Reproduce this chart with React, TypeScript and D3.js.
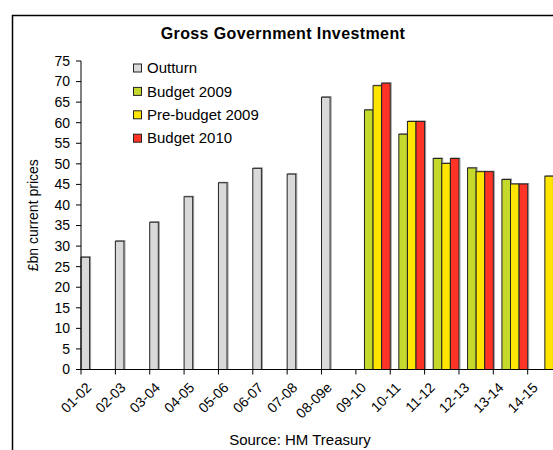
import React from "react";
import * as d3 from "d3";

const categories = ["01-02","02-03","03-04","04-05","05-06","06-07","07-08","08-09e","09-10","10-11","11-12","12-13","13-14","14-15"];
const seriesNames = ["Outturn","Budget 2009","Pre-budget 2009","Budget 2010"];
const seriesColors = ["#d9d9d9","#c5d92d","#ffe500","#ff3326"];
const outturn = [27.3,31.2,35.8,42.0,45.4,48.9,47.5,66.2,null,null,null,null,null,null];
const budget2009 = [null,null,null,null,null,null,null,null,63.1,57.2,51.3,49.0,46.2,null];
const preBudget2009 = [null,null,null,null,null,null,null,null,69.0,60.3,50.1,48.1,45.1,47.0];
const budget2010 = [null,null,null,null,null,null,null,null,69.6,60.3,51.3,48.1,45.1,null];
const yTicks = [0,5,10,15,20,25,30,35,40,45,50,55,60,65,70,75];

const W = 553, H = 450;
const left = 81, bandW = 34.36, top = 61, bottom = 369.5;

export default function App() {
  const series = [outturn, budget2009, preBudget2009, budget2010];
  const x = d3.scaleBand().domain(categories).range([left, left + bandW * categories.length]).padding(0);
  const inner = d3.scaleBand().domain(seriesNames).range([0, x.bandwidth()]).padding(0);
  const y = d3.scaleLinear().domain([0, 75]).range([bottom, top]);
  const font = "'Liberation Sans', Arial, sans-serif";
  return (
    <svg width={W} height={H} style={{ position: "absolute", left: 0, top: 0 }} fontFamily={font}>
      <rect x={0} y={0} width={W} height={H} fill="#fff" />
      <rect x={12.5} y={15.5} width={W + 20} height={H + 20} fill="none" stroke="#000" strokeWidth={1.5} />
      <text x={283} y={39} textAnchor="middle" fontSize={16} fontWeight="bold" letterSpacing={0.4}>Gross Government Investment</text>
      {/* bars */}
      {series.map((vals, si) =>
        categories.map((c, ci) => {
          const v = vals[ci];
          if (v == null) return null;
          const bx = (x(c) as number) + (inner(seriesNames[si]) as number);
          return (
            <g key={`${si}-${ci}`}>
              <rect x={bx + 1} y={y(v) - 0.5} width={inner.bandwidth()} height={y(0) - y(v) + 0.5}
                fill="none" stroke="#999" strokeWidth={1} />
              <rect x={bx} y={y(v)} width={inner.bandwidth()} height={y(0) - y(v)}
                fill={seriesColors[si]} stroke="#222" strokeWidth={1} />
            </g>
          );
        })
      )}
      {/* y axis */}
      <line x1={left} x2={left} y1={top} y2={bottom} stroke="#000" strokeWidth={1} />
      {yTicks.map((t) => (
        <g key={t}>
          <line x1={left - 5} x2={left} y1={y(t)} y2={y(t)} stroke="#000" />
          <text x={left - 11} y={y(t)} dy="0.35em" textAnchor="end" fontSize={14}>{t}</text>
        </g>
      ))}
      {/* x axis */}
      <line x1={left} x2={W} y1={bottom} y2={bottom} stroke="#000" strokeWidth={1} />
      {categories.map((c) => (
        <g key={c}>
          <line x1={x(c)} x2={x(c)} y1={bottom} y2={bottom + 5} stroke="#000" />
          <text transform={`translate(${(x(c) as number) + bandW / 2 - 6},${bottom + 19}) rotate(-45)`}
            textAnchor="end" fontSize={14}>{c}</text>
        </g>
      ))}
      <text transform={`translate(38,${(top + bottom) / 2}) rotate(-90)`} textAnchor="middle" fontSize={14}>£bn current prices</text>
      <text x={300} y={445} textAnchor="middle" fontSize={15}>Source: HM Treasury</text>
      {/* legend */}
      {seriesNames.map((n, i) => (
        <g key={n}>
          <rect x={133.5} y={64 + i * 23.4} width={8} height={8} fill={seriesColors[i]} stroke="#222" />
          <text x={147} y={68 + i * 23.4} dy="0.35em" fontSize={15}>{n}</text>
        </g>
      ))}
    </svg>
  );
}
